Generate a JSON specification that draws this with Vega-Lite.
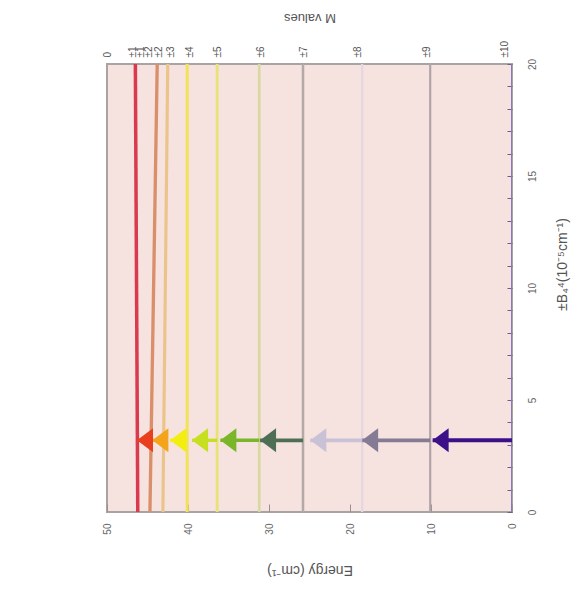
{
  "$schema": "https://vega.github.io/schema/vega-lite/v6.json",
  "autosize": "none",
  "width": 405,
  "height": 448,
  "padding": {"left": 107, "top": 64, "right": 70, "bottom": 84},
  "background": "white",
  "config": {
    "font": "Liberation Sans",
    "view": {"fill": "#f6e2df", "stroke": "#aaa3a3", "strokeWidth": 2}
  },
  "datasets": {
    "levels": [
      {"level": "a", "B": 0, "E": 46.2}, {"level": "a", "B": 20, "E": 46.5},
      {"level": "b", "B": 0, "E": 44.7}, {"level": "b", "B": 20, "E": 43.8},
      {"level": "c", "B": 0, "E": 43.1}, {"level": "c", "B": 20, "E": 42.5},
      {"level": "d", "B": 0, "E": 40.1}, {"level": "d", "B": 20, "E": 40.1},
      {"level": "e", "B": 0, "E": 36.4}, {"level": "e", "B": 20, "E": 36.4},
      {"level": "f", "B": 0, "E": 31.2}, {"level": "f", "B": 20, "E": 31.2},
      {"level": "g", "B": 0, "E": 25.8}, {"level": "g", "B": 20, "E": 25.8},
      {"level": "h", "B": 0, "E": 18.5}, {"level": "h", "B": 20, "E": 18.5},
      {"level": "i", "B": 0, "E": 10.1}, {"level": "i", "B": 20, "E": 10.1},
      {"level": "j", "B": 0, "E": 0}, {"level": "j", "B": 20, "E": 0}
    ],
    "arrows": [
      {"arrow": "a1", "B": 3.2, "from": 0, "tip": 9.8},
      {"arrow": "a2", "B": 3.2, "from": 10.1, "tip": 18.5},
      {"arrow": "a3", "B": 3.2, "from": 18.5, "tip": 24.9},
      {"arrow": "a4", "B": 3.2, "from": 25.8, "tip": 31.1},
      {"arrow": "a5", "B": 3.2, "from": 31.2, "tip": 36.0},
      {"arrow": "a6", "B": 3.2, "from": 36.4, "tip": 39.5},
      {"arrow": "a7", "B": 3.2, "from": 40.1, "tip": 42.2},
      {"arrow": "a8", "B": 3.2, "from": 43.1, "tip": 44.4},
      {"arrow": "a9", "B": 3.2, "from": 44.7, "tip": 46.3}
    ]
  },
  "resolve": {"axis": {"x": "independent", "y": "independent"}, "scale": {"color": "independent", "strokeWidth": "independent"}},
  "layer": [
    {
      "data": {"name": "levels"},
      "mark": {"type": "line", "clip": true},
      "encoding": {
        "x": {
          "field": "E", "type": "quantitative",
          "scale": {"domain": [0, 50], "reverse": true, "nice": false, "zero": false},
          "axis": {
            "orient": "bottom", "title": "Energy (cm⁻¹)", "titleAngle": 180,
            "titleFontSize": 14, "titleFontWeight": "normal", "titleColor": "#555555", "titlePadding": 42,
            "values": [0, 10, 20, 30, 40, 50], "labelAngle": 270, "labelAlign": "right", "labelBaseline": "middle",
            "labelFontSize": 10, "labelColor": "#666666", "labelPadding": 19, "labelFlush": false, "labelOverlap": false,
            "tickSize": -8, "tickColor": "#9a9090", "domain": false, "grid": false
          }
        },
        "y": {
          "field": "B", "type": "quantitative",
          "scale": {"domain": [0, 20], "nice": false},
          "axis": {
            "orient": "right", "title": "±B₄⁴(10⁻⁵cm⁻¹)", "titleAngle": 270, "titleY": 200,
            "titleFontSize": 14, "titleFontWeight": "normal", "titleColor": "#555555", "titlePadding": 32,
            "values": [0,1,2,3,4,5,6,7,8,9,10,11,12,13,14,15,16,17,18,19,20],
            "labelExpr": "indexof([0, 5, 10, 15, 20], datum.value) >= 0 ? datum.label : ''",
            "labelAngle": 270, "labelAlign": "center", "labelBaseline": "top",
            "labelFontSize": 10, "labelColor": "#666666", "labelPadding": 20, "labelFlush": false, "labelOverlap": false,
            "tickSize": -5, "tickColor": "#6d6080", "domain": false, "grid": false
          }
        },
        "color": {
          "field": "level", "type": "nominal", "legend": null,
          "scale": {"domain": ["a","b","c","d","e","f","g","h","i","j"],
                    "range": ["#d93a4e","#d9906a","#ebc48a","#f2e25a","#e9e27a","#d6d9a0","#b3a9a6","#e6d6e2","#b2a3aa","#8a78b4"]}
        },
        "strokeWidth": {
          "field": "level", "type": "nominal", "legend": null,
          "scale": {"domain": ["a","b","c","d","e","f","g","h","i","j"],
                    "range": [3.5, 2, 2, 2.5, 2, 2, 2.5, 2, 2.5, 3.5]}
        }
      }
    },
    {
      "data": {"name": "arrows"},
      "mark": {"type": "rule"},
      "encoding": {
        "x": {
          "field": "from", "type": "quantitative",
          "scale": {"domain": [0, 50], "reverse": true, "nice": false, "zero": false},
          "axis": {
            "orient": "top", "title": "M values", "titleAngle": 180,
            "titleFontSize": 13, "titleFontWeight": "normal", "titleColor": "#555555", "titlePadding": 30,
            "values": [50, 46.9, 45.9, 44.9, 43.7, 42.2, 39.8, 36.3, 31.1, 25.8, 19.1, 10.5, 0.9],
            "labelExpr": "['0','±1','±1','±2','±2','±3','±4','±5','±6','±7','±8','±9','±10'][indexof([50, 46.9, 45.9, 44.9, 43.7, 42.2, 39.8, 36.3, 31.1, 25.8, 19.1, 10.5, 0.9], datum.value)]",
            "labelAngle": 270, "labelAlign": "left", "labelBaseline": "middle",
            "labelFontSize": 10, "labelColor": "#555555", "labelPadding": 7, "labelFlush": false, "labelOverlap": false, "labelBound": false,
            "ticks": false, "domain": false, "grid": false
          }
        },
        "x2": {"field": "tip"},
        "y": {"field": "B", "type": "quantitative", "scale": {"domain": [0, 20], "nice": false}, "axis": null},
        "color": {
          "field": "arrow", "type": "nominal", "legend": null,
          "scale": {"domain": ["a1","a2","a3","a4","a5","a6","a7","a8","a9"],
                    "range": ["#3c1088","#857b95","#c9c1d6","#4e6e56","#7ab62a","#c6e021","#f2ee10","#f3a41a","#e8401e"]}
        },
        "strokeWidth": {
          "field": "arrow", "type": "nominal", "legend": null,
          "scale": {"domain": ["a1","a2","a3","a4","a5","a6","a7","a8","a9"],
                    "range": [4, 3, 3, 3, 3, 3, 3, 3, 3]}
        }
      }
    },
    {
      "data": {"name": "arrows"},
      "mark": {"type": "point", "filled": true, "opacity": 1, "shape": "M0,0L2,-1.5L2,1.5Z", "size": 256},
      "encoding": {
        "x": {
          "field": "tip", "type": "quantitative",
          "scale": {"domain": [0, 50], "reverse": true, "nice": false, "zero": false},
          "axis": null
        },
        "y": {"field": "B", "type": "quantitative", "scale": {"domain": [0, 20], "nice": false}, "axis": null},
        "color": {
          "field": "arrow", "type": "nominal", "legend": null,
          "scale": {"domain": ["a1","a2","a3","a4","a5","a6","a7","a8","a9"],
                    "range": ["#3c1088","#857b95","#c9c1d6","#4e6e56","#7ab62a","#c6e021","#f2ee10","#f3a41a","#e8401e"]}
        }
      }
    }
  ]
}
